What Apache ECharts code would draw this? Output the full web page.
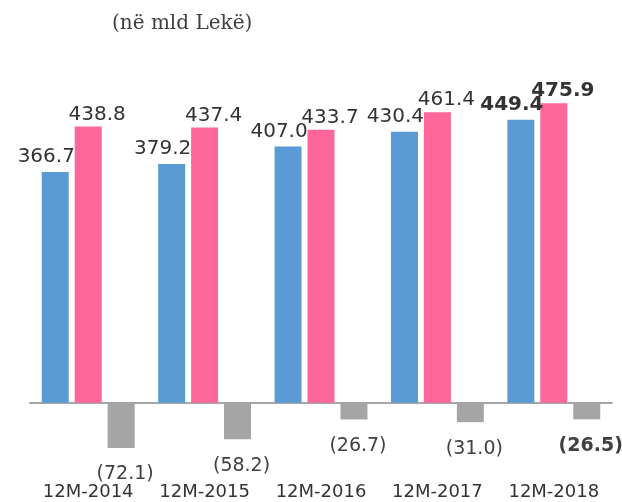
<!DOCTYPE html>
<html>
<head>
<meta charset="utf-8">
<script src="https://cdn.jsdelivr.net/npm/echarts@6/dist/echarts.min.js"></script>
<style>
  html, body { margin: 0; padding: 0; background: #fff; }
  #main { width: 622px; height: 502px; }
</style>
</head>
<body>
<div id="main"></div>
<script>
// te dhenat (ne mld Leke)
var categories = ['12M-2014', '12M-2015', '12M-2016', '12M-2017', '12M-2018'];
var blueVals = [366.7, 379.2, 407.0, 430.4, 449.4];
var pinkVals = [438.8, 437.4, 433.7, 461.4, 475.9];
var grayVals = [-72.1, -58.2, -26.7, -31.0, -26.5];

var lastIdx = categories.length - 1;

// vlera e fundit me shkronja te trasha
function build(vals) {
    var out = [];
    for (var i = 0; i < vals.length; i++) {
        if (i == lastIdx) {
            out.push({ value: vals[i], label: { fontWeight: 'bold' } });
        } else {
            out.push(vals[i]);
        }
    }
    return out;
}

var chart = echarts.init(document.getElementById('main'));

var option = {
    animation: false,
    title: {
        text: '(në mld Lekë)',
        left: 112,
        top: 14,
        padding: 0,
        textStyle: {
            fontFamily: 'DejaVu Serif',
            fontSize: 20,
            fontWeight: 'normal',
            color: '#404040'
        }
    },
    grid: { left: 30, right: 10, top: 88, bottom: 49, containLabel: false },
    xAxis: [
        {
            type: 'category',
            data: categories,
            axisLine: { show: false, onZero: false },
            axisTick: { show: false },
            axisLabel: {
                interval: 0,
                hideOverlap: false,
                margin: 30,
                fontFamily: 'DejaVu Sans',
                fontSize: 18,
                color: '#333333'
            }
        },
        {
            type: 'category',
            data: categories,
            axisLine: { show: true, onZero: true, lineStyle: { color: '#a6a6a6', width: 2 } },
            axisTick: { show: false },
            axisLabel: { show: false }
        }
    ],
    yAxis: {
        type: 'value',
        min: -80,
        max: 500,
        show: false,
        splitLine: { show: false }
    },
    series: [
        {
            type: 'bar',
            data: build(blueVals),
            barWidth: 27,
            barGap: '22%',
            itemStyle: { color: '#5b9bd5' },
            label: {
                show: true,
                position: 'top',
                distance: 5,
                offset: [-9, 0],
                fontFamily: 'DejaVu Sans',
                fontSize: 20,
                color: '#333333',
                formatter: function (p) { return p.value.toFixed(1); }
            }
        },
        {
            type: 'bar',
            data: build(pinkVals),
            barWidth: 27,
            barGap: '22%',
            itemStyle: { color: '#ff6699' },
            label: {
                show: true,
                position: 'top',
                distance: 2,
                offset: [9, 0],
                fontFamily: 'DejaVu Sans',
                fontSize: 20,
                color: '#333333',
                formatter: function (p) { return p.value.toFixed(1); }
            }
        },
        {
            type: 'bar',
            data: build(grayVals),
            barWidth: 27,
            barGap: '22%',
            itemStyle: { color: '#a5a5a5' },
            label: {
                show: true,
                position: 'bottom',
                distance: 17,
                offset: [4, 0],
                fontFamily: 'DejaVu Sans',
                fontSize: 19,
                color: '#404040',
                formatter: function (p) { return '(' + Math.abs(p.value).toFixed(1) + ')'; }
            }
        }
    ]
};

chart.setOption(option);
</script>
</body>
</html>
